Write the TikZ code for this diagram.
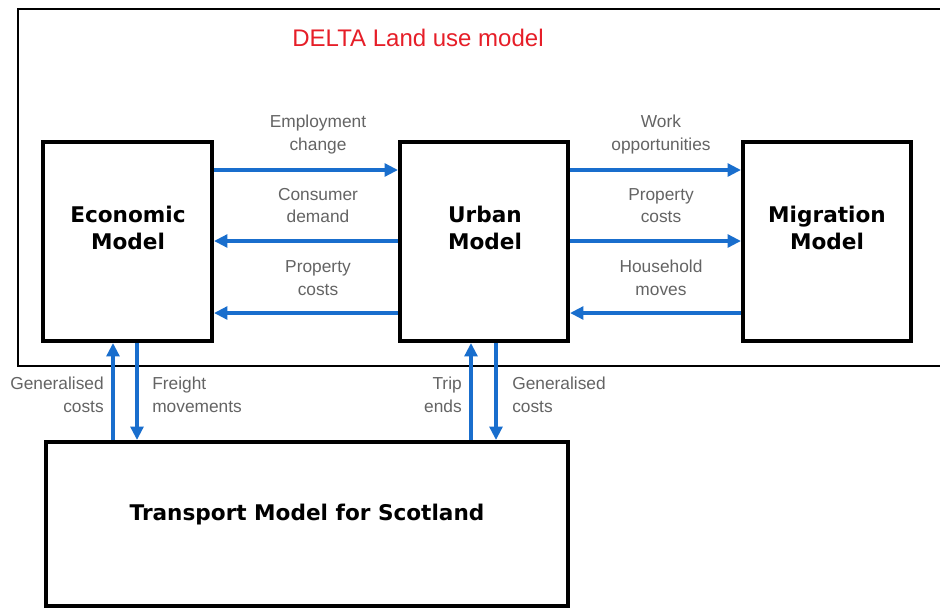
\documentclass[tikz,border=0pt]{standalone}
\usepackage{fontspec}
\setmainfont{Liberation Sans}
\newfontfamily\titlefont{DejaVu Sans}
\usetikzlibrary{arrows.meta}
\definecolor{arrblue}{RGB}{25,110,205}
\definecolor{lblgray}{RGB}{100,100,100}
\definecolor{deltared}{RGB}{230,30,40}
\begin{document}
\begin{tikzpicture}[x=0.75pt,y=-0.75pt,
  box/.style={draw=black,line width=3pt,fill=white,inner sep=0pt},
  frame/.style={draw=black,line width=2.2pt},
  arr/.style={draw=arrblue,line width=2.5pt,-{Triangle[length=10pt,width=9.5pt]}},
  ttl/.style={font=\titlefont\bfseries\fontsize{16.2}{20.5}\selectfont,align=center,inner sep=0pt},
  lbl/.style={font=\fontsize{13}{17}\selectfont,text=lblgray,align=center,inner sep=0pt},
  lblr/.style={lbl,align=right},
  lbll/.style={lbl,align=left}]
\useasboundingbox (0,0) rectangle (940,608);
\fill[white] (0,0) rectangle (940,608);
% outer frame (open on the right)
\draw[frame] (940,9) -- (18,9) -- (18,366) -- (940,366);
\node[font=\fontsize{18}{20}\selectfont,text=deltared,inner sep=0pt] (delta) at (418,38) {DELTA Land use model};
% boxes
\node[box,minimum width=169*0.75pt,minimum height=199*0.75pt] (eco) at (127.5,241.5) {};
\node[box,minimum width=168*0.75pt,minimum height=199*0.75pt] (urb) at (484,241.5) {};
\node[box,minimum width=168*0.75pt,minimum height=199*0.75pt] (mig) at (827,241.5) {};
\node[box,minimum width=522*0.75pt,minimum height=164*0.75pt] (tms) at (307,524) {};
% titles
\node[ttl] (ecot) at (128,228) {Economic\\Model};
\node[ttl] (urbt) at (485,228) {Urban\\Model};
\node[ttl] (migt) at (827,228) {Migration\\Model};
\node[ttl] (tmst) at (307,515) {Transport Model for Scotland};
% horizontal arrows
\draw[arr] (eco.east |- 0,170) -- (urb.west |- 0,170);
\draw[arr] (urb.west |- 0,241) -- (eco.east |- 0,241);
\draw[arr] (urb.west |- 0,313) -- (eco.east |- 0,313);
\draw[arr] (urb.east |- 0,170) -- (mig.west |- 0,170);
\draw[arr] (urb.east |- 0,241) -- (mig.west |- 0,241);
\draw[arr] (mig.west |- 0,313) -- (urb.east |- 0,313);
% vertical arrows
\draw[arr] (tms.north -| 113,0) -- (eco.south -| 113,0);
\draw[arr] (eco.south -| 137,0) -- (tms.north -| 137,0);
\draw[arr] (tms.north -| 471,0) -- (urb.south -| 471,0);
\draw[arr] (urb.south -| 496,0) -- (tms.north -| 496,0);
% labels
\node[lbl] (l1) at (318,134.5) {Employment\\change};
\node[lbl] (l2) at (318,205.5) {Consumer\\demand};
\node[lbl] (l3) at (318,278) {Property\\costs};
\node[lbl] (l4) at (661,134.5) {Work\\opportunities};
\node[lbl] (l5) at (661,205.5) {Property\\costs};
\node[lbl] (l6) at (661,278) {Household\\moves};
\node[lblr,anchor=east] (l7) at (104,394.5) {Generalised\\costs};
\node[lbll,anchor=west] (l8) at (152,394.5) {Freight\\movements};
\node[lblr,anchor=east] (l9) at (462,394.5) {Trip\\ends};
\node[lbll,anchor=west] (l10) at (512,394.5) {Generalised\\costs};
\end{tikzpicture}
\end{document}
